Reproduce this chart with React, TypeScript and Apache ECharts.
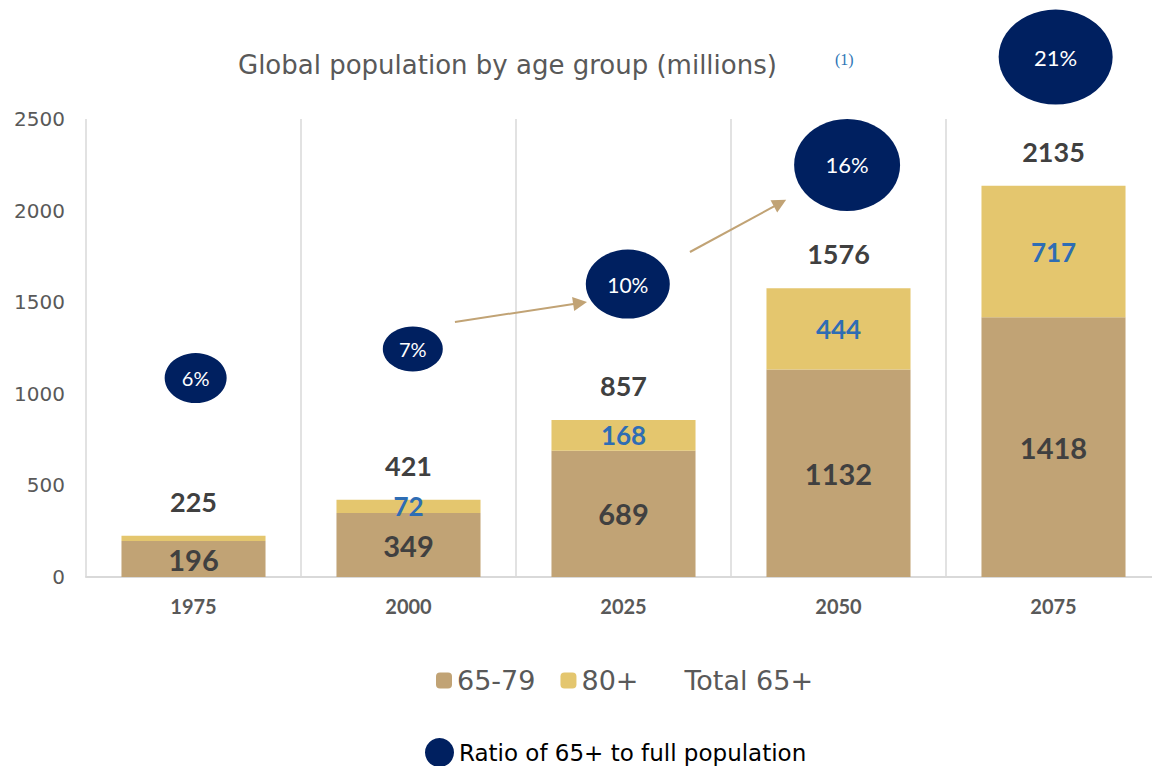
import React, { useEffect, useRef } from "react";
import * as echarts from "echarts";

const years = ["1975", "2000", "2025", "2050", "2075"];
const age6579 = [196, 349, 689, 1132, 1418];
const age80 = [29, 72, 168, 444, 717];
const total65 = [225, 421, 857, 1576, 2135];
const ratioLabels = ["6%", "7%", "10%", "16%", "21%"];
// ellipse centres in (category index, millions) units and their sizes
const ratioX = [0.01, 1.02, 2.02, 3.04, 4.01];
const ratioY = [1086, 1245, 1599, 2249, 2838];
const ratioW = [62, 60, 84, 106, 114];
const ratioH = [50, 45, 69, 92, 95];
const ratioFont = [20, 20, 21, 22, 22];
const arrowFrom = [[1.216, 1392], [2.309, 1774]];
const arrowTo = [[1.798, 1496], [2.728, 2041]];
const yTicks = { min: 0, max: 2500, interval: 500 };

const FONT = "Lato, 'Open Sans', sans-serif";
const FONT_WIDE = "'DejaVu Sans', sans-serif";
const TAN = "#C1A375";
const GOLD = "#E4C66E";
const NAVY = "#002060";

export default function App() {
  const ref = useRef<HTMLDivElement>(null);
  useEffect(() => {
    document.body.style.margin = "0";
    if (!ref.current) return;
    const chart = echarts.init(ref.current, null, { renderer: "svg" });
    const option: any = {
      animation: false,
      textStyle: { fontFamily: FONT },
      title: [
        {
          text: "Global population by age group (millions)",
          left: 233,
          top: 47,
          textStyle: { fontFamily: FONT_WIDE, fontSize: 26, fontWeight: "normal", color: "#595959" },
        },
        {
          text: "(1)",
          left: 830,
          top: 46,
          textStyle: { fontFamily: "'Liberation Serif', serif", fontSize: 16, fontWeight: "normal", color: "#2E75B6" },
        },
      ],
      grid: { left: 86, top: 119, width: 1075, bottom: 189, containLabel: false },
      legend: [
        {
          top: 662,
          left: 431,
          itemWidth: 16,
          itemHeight: 16,
          itemGap: 25,
          textStyle: { fontFamily: FONT_WIDE, fontSize: 27, color: "#595959" },
          data: ["65-79", "80+", { name: "Total 65+", icon: "none" }],
        },
        {
          top: 733,
          left: 420,
          itemWidth: 29,
          itemHeight: 29,
          textStyle: { fontFamily: FONT_WIDE, fontSize: 23, color: "#000000", lineHeight: 26 },
          data: [{ name: "Ratio of 65+ to full population", icon: "circle" }],
        },
      ],
      xAxis: [
        {
          type: "category",
          data: years,
          axisLine: { lineStyle: { color: "#D9D9D9", width: 2 } },
          axisTick: { show: false },
          splitLine: { show: true, lineStyle: { color: "#D9D9D9", width: 1.5 } },
          axisLabel: { fontFamily: FONT, fontSize: 20, fontWeight: "bold", color: "#595959", margin: 19 },
        },
        { type: "value", min: -0.5, max: 4.5, show: false },
      ],
      yAxis: {
        type: "value",
        min: yTicks.min,
        max: yTicks.max,
        interval: yTicks.interval,
        axisLine: { show: false },
        axisTick: { show: false },
        splitLine: { show: false },
        axisLabel: {
          fontFamily: FONT_WIDE,
          fontSize: 20,
          color: "#595959",
          margin: 21,
          formatter: (v: number) => String(v),
        },
      },
      series: [
        {
          name: "65-79",
          type: "bar",
          stack: "pop",
          barWidth: "67%",
          itemStyle: { color: TAN },
          label: { show: true, position: "inside", fontFamily: FONT, fontSize: 29, fontWeight: "bold", color: "#404040" },
          data: age6579,
        },
        {
          name: "80+",
          type: "bar",
          stack: "pop",
          itemStyle: { color: GOLD },
          label: { show: true, position: "inside", fontFamily: FONT, fontSize: 26, fontWeight: "bold", color: "#2E6DB4" },
          data: age80.map((v, i) => (i === 0 ? { value: v, label: { show: false } } : v)),
        },
        {
          name: "Total 65+",
          type: "bar",
          barGap: "-100%",
          barWidth: "67%",
          itemStyle: { color: "rgba(0,0,0,0)" },
          label: { show: true, position: "top", distance: 21, fontFamily: FONT, fontSize: 27, fontWeight: "bold", color: "#404040" },
          data: total65,
          z: 1,
        },
        {
          name: "Ratio of 65+ to full population",
          type: "scatter",
          xAxisIndex: 1,
          clip: false,
          itemStyle: { color: NAVY, opacity: 1 },
          symbolSize: (v: number[]) => [v[2], v[3]],
          label: {
            show: true,
            position: "inside",
            fontFamily: FONT,
            color: "#FFFFFF",
            formatter: (p: any) => ratioLabels[p.dataIndex],
          },
          data: ratioX.map((x, i) => ({
            value: [x, ratioY[i], ratioW[i], ratioH[i]],
            label: { fontSize: ratioFont[i] },
          })),
          z: 6,
        },
        {
          name: "arrows",
          type: "lines",
          coordinateSystem: "cartesian2d",
          xAxisIndex: 1,
          yAxisIndex: 0,
          symbol: ["none", "triangle"],
          symbolSize: 14,
          lineStyle: { color: TAN, width: 2, opacity: 1 },
          data: arrowFrom.map((f, i) => ({ coords: [f, arrowTo[i]] })),
          z: 4,
        },
      ],
    };
    chart.setOption(option);
    return () => chart.dispose();
  }, []);
  return (
    <div style={{ width: 1152, height: 766, overflow: "hidden" }}>
      <div ref={ref} style={{ width: 1175, height: 766 }} />
    </div>
  );
}
